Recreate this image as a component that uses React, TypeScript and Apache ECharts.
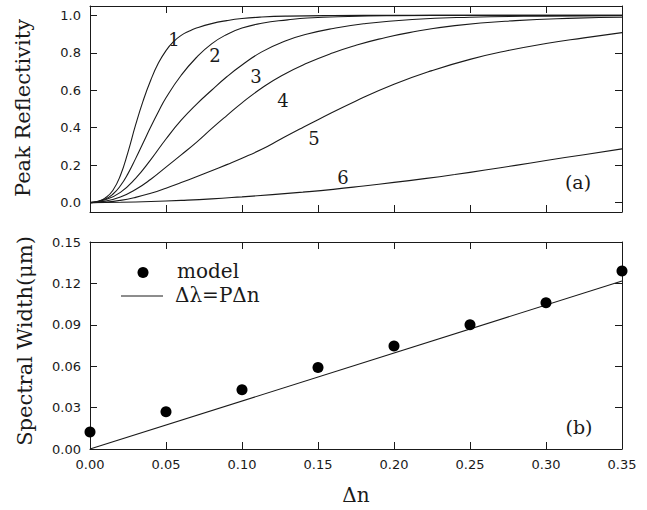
import React, { useEffect, useRef } from "react";
import * as echarts from "echarts";

// ---- Data ----
// Panel (a): peak reflectivity vs Δn, curves 1..6 as [Δn, R]
const curve1: number[][] = [
  [0, 0], [0.005, 0.005], [0.01, 0.025], [0.015, 0.065], [0.02, 0.145], [0.025, 0.27],
  [0.03, 0.415], [0.035, 0.545], [0.04, 0.655], [0.045, 0.745], [0.05, 0.812], [0.055, 0.86],
  [0.06, 0.893], [0.065, 0.915], [0.07, 0.932], [0.08, 0.956], [0.09, 0.972], [0.1, 0.983],
  [0.113, 0.991], [0.13, 0.996], [0.16, 0.999], [0.2, 1.0], [0.25, 1.0], [0.3, 1.0], [0.35, 1.0],
];
const curve2: number[][] = [
  [0, 0], [0.01, 0.02], [0.015, 0.045], [0.02, 0.09], [0.025, 0.155], [0.03, 0.235],
  [0.035, 0.32], [0.04, 0.405], [0.045, 0.485], [0.05, 0.56], [0.06, 0.68], [0.07, 0.775],
  [0.08, 0.848], [0.09, 0.898], [0.1, 0.932], [0.113, 0.958], [0.13, 0.976], [0.143, 0.986],
  [0.17, 0.994], [0.2, 0.998], [0.25, 1.0], [0.35, 1.0],
];
const curve3: number[][] = [
  [0, 0], [0.01, 0.015], [0.02, 0.055], [0.03, 0.13], [0.04, 0.23], [0.05, 0.34],
  [0.06, 0.44], [0.07, 0.525], [0.08, 0.6], [0.09, 0.672], [0.1, 0.735], [0.113, 0.805],
  [0.128, 0.862], [0.143, 0.9], [0.16, 0.93], [0.18, 0.955], [0.212, 0.978], [0.25, 0.99],
  [0.3, 0.996], [0.35, 0.998],
];
const curve4: number[][] = [
  [0, 0], [0.01, 0.008], [0.02, 0.03], [0.03, 0.07], [0.04, 0.125], [0.05, 0.19],
  [0.06, 0.255], [0.07, 0.322], [0.08, 0.395], [0.09, 0.465], [0.1, 0.533], [0.113, 0.612],
  [0.126, 0.678], [0.143, 0.745], [0.16, 0.8], [0.175, 0.84], [0.19, 0.873], [0.21, 0.908],
  [0.24, 0.945], [0.28, 0.972], [0.32, 0.985], [0.35, 0.99],
];
const curve5: number[][] = [
  [0, 0], [0.01, 0.003], [0.02, 0.012], [0.03, 0.028], [0.04, 0.05], [0.05, 0.077],
  [0.06, 0.107], [0.07, 0.138], [0.08, 0.17], [0.09, 0.203], [0.1, 0.237], [0.113, 0.285],
  [0.125, 0.337], [0.138, 0.393], [0.15, 0.443], [0.175, 0.543], [0.2, 0.632], [0.225, 0.705],
  [0.25, 0.765], [0.275, 0.812], [0.3, 0.85], [0.325, 0.88], [0.35, 0.908],
];
const curve6: number[][] = [
  [0, 0], [0.02, 0.002], [0.04, 0.006], [0.06, 0.012], [0.08, 0.02], [0.1, 0.031],
  [0.12, 0.043], [0.14, 0.056], [0.16, 0.071], [0.18, 0.089], [0.2, 0.108], [0.22, 0.128],
  [0.24, 0.15], [0.26, 0.174], [0.28, 0.199], [0.3, 0.225], [0.325, 0.256], [0.35, 0.287],
];
const curves = [curve1, curve2, curve3, curve4, curve5, curve6];
const curveLabels = ["1", "2", "3", "4", "5", "6"];

// Panel (b): spectral width vs Δn
const deltaN = [0, 0.05, 0.1, 0.15, 0.2, 0.25, 0.3, 0.35];
const modelWidth = [0.0123, 0.027, 0.043, 0.059, 0.0746, 0.09, 0.106, 0.129];
const fitX = [0, 0.35];
const fitY = [0, 0.1217];

const INK = "#1a1a1a";
const SANS = "DejaVu Sans";
const SERIF = "DejaVu Serif";

export default function App() {
  const ref = useRef<HTMLDivElement>(null);
  useEffect(() => {
    document.body.style.margin = "0";
    if (!ref.current) return;
    const chart = echarts.init(ref.current, null, { renderer: "svg" });
    const line = { color: INK, width: 1 };
    const baseX = (grid: number, pos: string, labels: boolean) => ({
      type: "value",
      gridIndex: grid,
      position: pos,
      min: 0,
      max: 0.35,
      interval: 0.05,
      axisLine: { show: true, onZero: false, lineStyle: line },
      axisTick: { show: true, inside: true, length: 7, lineStyle: line },
      splitLine: { show: false },
      axisLabel: labels
        ? { show: true, margin: 9, fontFamily: SANS, fontSize: 13, color: INK, formatter: (v: number) => v.toFixed(2) }
        : { show: false },
    });
    const topY = (pos: string, labels: boolean) => ({
      type: "value",
      gridIndex: 0,
      position: pos,
      min: -0.05,
      max: 1.05,
      splitNumber: 5,
      axisLine: { show: true, onZero: false, lineStyle: line },
      axisTick: { show: true, inside: true, length: 7, lineStyle: line },
      splitLine: { show: false },
      axisLabel: labels
        ? { show: true, margin: 9, fontFamily: SANS, fontSize: 13, color: INK, showMinLabel: false, showMaxLabel: false, formatter: (v: number) => v.toFixed(1) }
        : { show: false },
    });
    const botY = (pos: string, labels: boolean) => ({
      type: "value",
      gridIndex: 1,
      position: pos,
      min: 0,
      max: 0.15,
      interval: 0.03,
      axisLine: { show: true, onZero: false, lineStyle: line },
      axisTick: { show: true, inside: true, length: 7, lineStyle: line },
      splitLine: { show: false },
      axisLabel: labels
        ? { show: true, margin: 9, fontFamily: SANS, fontSize: 13, color: INK, formatter: (v: number) => v.toFixed(2) }
        : { show: false },
    });

    const curveSeries = curves.map((c, i) => ({
      type: "line",
      name: "curve " + curveLabels[i],
      xAxisIndex: 0,
      yAxisIndex: 0,
      data: c,
      smooth: 0.5,
      symbol: "none",
      lineStyle: { color: INK, width: 1.1 },
      z: 3,
    }));

    const labelPos = [
      [174, 39], [215, 55], [256, 76], [283, 100], [314, 138], [343, 177],
    ];
    const txt = (text: string, x: number, y: number, size: number, align = "center", rot = 0, family = SERIF) => ({
      type: "text",
      x,
      y,
      rotation: rot,
      style: {
        text,
        fill: INK,
        fontSize: size,
        fontFamily: family,
        align,
        textAlign: align,
        verticalAlign: "middle",
        textVerticalAlign: "middle",
      },
    });

    chart.setOption({
      animation: false,
      backgroundColor: "#ffffff",
      grid: [
        { left: 90, right: 25, top: 6, height: 206 },
        { left: 90, right: 25, top: 242, height: 207 },
      ],
      xAxis: [baseX(0, "bottom", false), baseX(0, "top", false), baseX(1, "bottom", true), baseX(1, "top", false)],
      yAxis: [topY("left", true), topY("right", false), botY("left", true), botY("right", false)],
      series: [
        ...curveSeries,
        {
          type: "line",
          name: "Δλ=PΔn",
          xAxisIndex: 2,
          yAxisIndex: 2,
          data: fitX.map((x, i) => [x, fitY[i]]),
          symbol: "none",
          lineStyle: { color: INK, width: 1.1 },
        },
        {
          type: "scatter",
          name: "model",
          xAxisIndex: 2,
          yAxisIndex: 2,
          data: deltaN.map((x, i) => [x, modelWidth[i]]),
          symbol: "circle",
          symbolSize: 11,
          itemStyle: { color: "#000", opacity: 1 },
          z: 4,
        },
      ],
      graphic: [
        ...curveLabels.map((t, i) => txt(t, labelPos[i][0], labelPos[i][1], 18)),
        txt("(a)", 578, 182, 19),
        txt("(b)", 579, 427, 19),
        txt("Peak Reflectivity", 23, 108, 21, "center", Math.PI / 2),
        txt("Spectral Width(μm)", 25, 341, 21, "center", Math.PI / 2),
        txt("Δn", 356, 495, 20),
        { type: "circle", shape: { cx: 143, cy: 272.5, r: 5.5 }, style: { fill: "#000" } },
        { type: "line", shape: { x1: 121, y1: 296, x2: 163, y2: 296 }, style: { stroke: INK, lineWidth: 1 } },
        txt("model", 177, 271, 20, "left"),
        txt("Δλ=PΔn", 175, 295, 20, "left"),
      ],
    });
    return () => chart.dispose();
  }, []);
  return <div ref={ref} style={{ width: 647, height: 510 }} />;
}
